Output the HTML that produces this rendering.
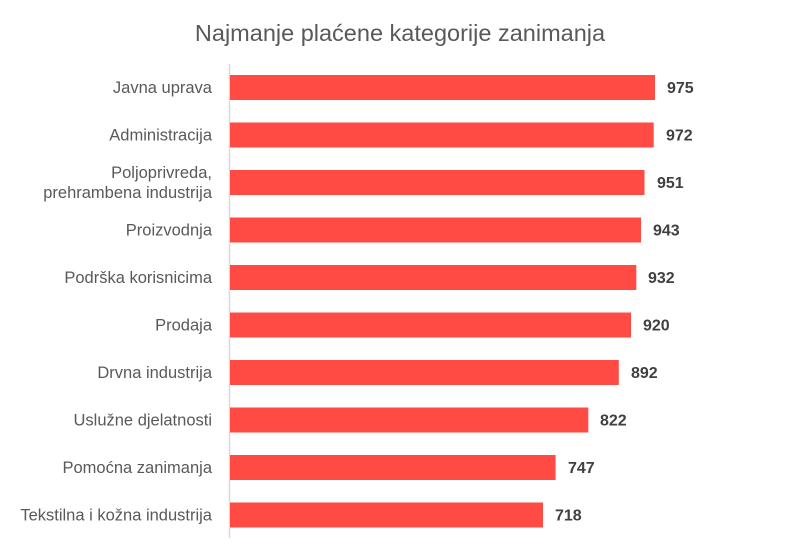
<!DOCTYPE html>
<html><head><meta charset="utf-8"><style>
body{margin:0;background:#fff;}
svg{display:block;font-family:"Liberation Sans",sans-serif;}
</style></head><body>
<svg width="801" height="558" viewBox="0 0 801 558">
<text x="400" y="41" text-anchor="middle" font-size="23.5" fill="#595959">Najmanje plaćene kategorije zanimanja</text>
<line x1="229.5" y1="64" x2="229.5" y2="538" stroke="#d9d9d9" stroke-width="1.5"/>
<g fill="#ff4b43">
<rect x="230" y="75" width="425" height="25"/>
<rect x="230" y="122.5" width="423.7" height="25"/>
<rect x="230" y="170" width="414.5" height="25"/>
<rect x="230" y="217.5" width="411" height="25"/>
<rect x="230" y="265" width="406.3" height="25"/>
<rect x="230" y="312.5" width="401" height="25"/>
<rect x="230" y="360" width="388.8" height="25"/>
<rect x="230" y="407.5" width="358.3" height="25"/>
<rect x="230" y="455" width="325.6" height="25"/>
<rect x="230" y="502.5" width="313" height="25"/>
</g>
<g font-size="16" font-weight="bold" fill="#404040">
<text x="667" y="93">975</text>
<text x="666" y="140.5">972</text>
<text x="657" y="188">951</text>
<text x="653" y="235.5">943</text>
<text x="648" y="283">932</text>
<text x="643" y="330.5">920</text>
<text x="631" y="378">892</text>
<text x="600" y="425.5">822</text>
<text x="568" y="473">747</text>
<text x="555" y="520.5">718</text>
</g>
<g font-size="16.5" fill="#595959" text-anchor="end">
<text x="212" y="93">Javna uprava</text>
<text x="212" y="140.5">Administracija</text>
<text x="212" y="178">Poljoprivreda,</text>
<text x="212" y="198">prehrambena industrija</text>
<text x="212" y="235.5">Proizvodnja</text>
<text x="212" y="283">Podrška korisnicima</text>
<text x="212" y="330.5">Prodaja</text>
<text x="212" y="378">Drvna industrija</text>
<text x="212" y="425.5">Uslužne djelatnosti</text>
<text x="212" y="473">Pomoćna zanimanja</text>
<text x="212" y="520.5">Tekstilna i kožna industrija</text>
</g>
</svg>
</body></html>
